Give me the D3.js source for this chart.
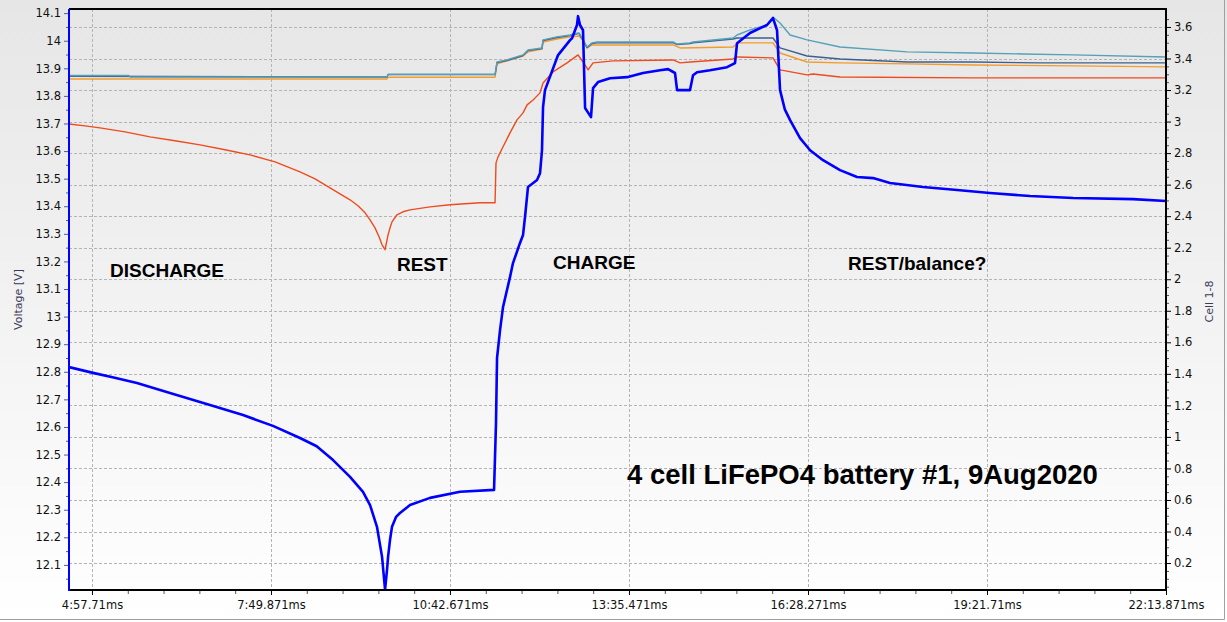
<!DOCTYPE html>
<html>
<head>
<meta charset="utf-8">
<script src="https://cdn.jsdelivr.net/npm/d3@7"></script>
<style>
  body { margin: 0; background: #fff; }
  svg { display: block; font-family: "DejaVu Sans", sans-serif; }
  .note { font-family: "Liberation Sans", Arial, sans-serif; font-weight: bold; fill: #000; }
</style>
</head>
<body>
<svg id="chart" width="1227" height="622"></svg>
<script>
// time in seconds, voltages
const timeTicks = [297.071, 469.871, 642.671, 815.471, 988.271, 1161.071, 1333.871];
const timeTickLabels = ["4:57.71ms", "7:49.871ms", "10:42.671ms", "13:35.471ms", "16:28.271ms", "19:21.71ms", "22:13.871ms"];
const packTicks = d3.range(121, 142).map(d => d / 10);
const cellTicks = d3.range(1, 19).map(d => d / 5);

const packVoltage = [
  [274.9, 12.817], [298.1, 12.796], [318.0, 12.779], [340.5, 12.759], [372.4, 12.723],
  [411.0, 12.680], [442.9, 12.643], [471.8, 12.604], [497.9, 12.560], [514.0, 12.530],
  [529.8, 12.480], [546.2, 12.419], [558.7, 12.365], [565.5, 12.317], [572.2, 12.238],
  [577.1, 12.129], [580.0, 12.010], [581.9, 12.082], [582.9, 12.129], [584.8, 12.191],
  [586.7, 12.238], [590.6, 12.274], [594.4, 12.288], [604.1, 12.317], [623.4, 12.343],
  [652.4, 12.365], [685.2, 12.372], [687.1, 12.614], [688.1, 12.850], [691.0, 12.951],
  [693.9, 13.035], [700.6, 13.143], [703.5, 13.194], [710.3, 13.267], [713.2, 13.296],
  [715.1, 13.361], [718.0, 13.470], [726.7, 13.495], [729.6, 13.520], [731.5, 13.603],
  [732.5, 13.759], [734.4, 13.821], [747.0, 13.948], [758.6, 14.002], [760.5, 14.009],
  [765.3, 14.057], [766.3, 14.089], [768.2, 14.057], [771.1, 14.038], [773.1, 13.756],
  [778.8, 13.723], [780.8, 13.828], [785.6, 13.850], [797.2, 13.864], [813.6, 13.868],
  [829.0, 13.883], [845.4, 13.893], [853.2, 13.897], [859.9, 13.883], [861.9, 13.821],
  [874.4, 13.821], [877.3, 13.875], [881.2, 13.886], [893.7, 13.893], [910.1, 13.904],
  [917.8, 13.919], [919.8, 13.991], [932.3, 14.028], [948.7, 14.057], [954.5, 14.082],
  [958.4, 14.038], [961.3, 13.821], [966.0, 13.750], [971.0, 13.712], [980.6, 13.647],
  [990.3, 13.603], [1002.8, 13.567], [1019.2, 13.531], [1035.6, 13.506], [1051.1, 13.502],
  [1067.5, 13.484], [1099.3, 13.470], [1132.2, 13.459], [1164.0, 13.448], [1202.6, 13.437],
  [1244.2, 13.430], [1302.1, 13.426], [1333.9, 13.419]
];

const cell1 = [
  [274.9, 3.292], [332.8, 3.292], [333.7, 3.283], [581.9, 3.283], [582.9, 3.300],
  [686.2, 3.300], [688.1, 3.378], [697.7, 3.391], [713.2, 3.423], [718.0, 3.454],
  [731.5, 3.467], [732.5, 3.518], [746.0, 3.537], [758.6, 3.549], [766.3, 3.562],
  [767.3, 3.562], [771.1, 3.518], [775.0, 3.473], [779.8, 3.499], [784.6, 3.505],
  [858.0, 3.505], [861.9, 3.492], [874.4, 3.499], [877.3, 3.505], [915.9, 3.530],
  [919.8, 3.549], [932.3, 3.581], [948.7, 3.613], [954.5, 3.663], [961.3, 3.625],
  [971.0, 3.549], [987.4, 3.518], [1019.2, 3.473], [1083.9, 3.442], [1147.6, 3.435],
  [1195.9, 3.429], [1244.2, 3.423], [1333.9, 3.410]
];

const cell2 = [
  [274.9, 3.287], [581.9, 3.283], [582.9, 3.298], [686.2, 3.298], [688.1, 3.374],
  [697.7, 3.387], [713.2, 3.419], [718.0, 3.450], [731.5, 3.463], [732.5, 3.514],
  [746.0, 3.533], [758.6, 3.545], [766.3, 3.558], [767.3, 3.558], [771.1, 3.514],
  [775.0, 3.469], [779.8, 3.495], [784.6, 3.500], [858.0, 3.500], [861.9, 3.488],
  [874.4, 3.495], [877.3, 3.500], [915.9, 3.524], [919.8, 3.530], [954.5, 3.530],
  [961.3, 3.467], [987.4, 3.416], [1019.2, 3.397], [1083.9, 3.378], [1147.6, 3.378],
  [1212.3, 3.372], [1333.9, 3.372]
];

const cell3 = [
  [274.9, 3.270], [581.9, 3.270], [582.9, 3.281], [686.2, 3.281], [688.1, 3.366],
  [697.7, 3.385], [713.2, 3.416], [718.0, 3.442], [731.5, 3.460], [732.5, 3.505],
  [746.0, 3.524], [758.6, 3.537], [767.3, 3.543], [771.1, 3.518], [775.0, 3.467],
  [779.8, 3.486], [784.6, 3.486], [858.0, 3.486], [864.8, 3.467], [915.9, 3.473],
  [920.7, 3.499], [954.5, 3.499], [961.3, 3.435], [987.4, 3.378], [1019.2, 3.372],
  [1083.9, 3.366], [1147.6, 3.359], [1244.2, 3.353], [1333.9, 3.347]
];

const cell4 = [
  [274.9, 2.985], [290.3, 2.973], [304.8, 2.960], [329.0, 2.935], [353.1, 2.903],
  [377.2, 2.878], [401.4, 2.852], [425.5, 2.821], [449.6, 2.789], [473.8, 2.744],
  [497.9, 2.681], [512.4, 2.637], [526.9, 2.580], [536.5, 2.542], [546.2, 2.504],
  [553.9, 2.466], [560.7, 2.421], [565.5, 2.377], [570.3, 2.326], [574.2, 2.269],
  [577.1, 2.218], [580.0, 2.187], [582.9, 2.282], [584.8, 2.326], [586.7, 2.364],
  [591.5, 2.409], [597.3, 2.428], [604.1, 2.440], [623.4, 2.459], [642.7, 2.472],
  [671.7, 2.485], [686.2, 2.485], [687.1, 2.738], [689.1, 2.776], [693.9, 2.840],
  [700.6, 2.928], [707.4, 3.011], [713.2, 3.055], [717.1, 3.106], [722.9, 3.137],
  [729.6, 3.182], [732.5, 3.245], [742.1, 3.315], [755.7, 3.372], [766.3, 3.423],
  [771.1, 3.378], [776.0, 3.328], [780.8, 3.372], [800.1, 3.385], [858.0, 3.391],
  [864.8, 3.372], [874.4, 3.378], [915.9, 3.397], [919.8, 3.410], [954.5, 3.404],
  [961.3, 3.328], [987.4, 3.296], [993.2, 3.302], [1019.2, 3.283], [1147.6, 3.277],
  [1333.9, 3.277]
];

const notes = [
  { text: "DISCHARGE", t: 314.5, v: 13.143, size: 19 },
  { text: "REST", t: 591.5, v: 13.165, size: 19 },
  { text: "CHARGE", t: 742.2, v: 13.174, size: 19 },
  { text: "REST/balance?", t: 1026.9, v: 13.169, size: 19 },
  { text: "4 cell LiFePO4 battery #1, 9Aug2020", t: 813.6, v: 12.393, size: 27.5 }
];

const svg = d3.select("#chart");
const width = +svg.attr("width");
const height = +svg.attr("height");
const margin = { top: 9, right: 61, bottom: 32, left: 69 };
const x0 = margin.left, x1 = width - margin.right;
const y0 = margin.top, y1 = height - margin.bottom;

const x = d3.scaleLinear().domain([274.9, 1333.871]).range([x0, x1]);
const yL = d3.scaleLinear().domain([12.009, 14.115]).range([y1, y0]);
const yR = d3.scaleLinear().domain([0.029, 3.714]).range([y1, y0]);

const defs = svg.append("defs");
const bg = defs.append("linearGradient")
  .attr("id", "bg").attr("x1", 0).attr("y1", 0).attr("x2", 0).attr("y2", 1);
bg.append("stop").attr("offset", "0%").attr("stop-color", "#e6e6e6");
bg.append("stop").attr("offset", "100%").attr("stop-color", "#ffffff");
defs.append("clipPath").attr("id", "plot-clip")
  .append("rect").attr("x", x0).attr("y", y0).attr("width", x1 - x0).attr("height", y1 - y0);

svg.append("rect").attr("width", width).attr("height", height).attr("fill", "url(#bg)");
svg.append("path")
  .attr("d", `M0,${height - 2.5}H${width - 2.5}V0`)
  .attr("fill", "none").attr("stroke", "#a0a0a0").attr("stroke-width", 1);

// grid
const grid = svg.append("g").attr("stroke", "#b4b4b4").attr("stroke-dasharray", "3,2").attr("stroke-width", 1);
grid.selectAll(".gy").data(cellTicks).join("line")
  .attr("x1", x0).attr("x2", x1)
  .attr("y1", d => Math.round(yR(d)) + 0.5).attr("y2", d => Math.round(yR(d)) + 0.5);
grid.selectAll(".gx").data(timeTicks.slice(0, -1)).join("line")
  .attr("y1", y0).attr("y2", y1)
  .attr("x1", d => Math.round(x(d)) + 0.5).attr("x2", d => Math.round(x(d)) + 0.5);

// series
const plot = svg.append("g").attr("clip-path", "url(#plot-clip)");
const lineL = d3.line().x(d => x(d[0])).y(d => yL(d[1]));
const lineR = d3.line().x(d => x(d[0])).y(d => yR(d[1]));

const cells = [
  { data: cell4, color: "#ee4b1e" },
  { data: cell3, color: "#f59b2c" },
  { data: cell2, color: "#3d5f8f" },
  { data: cell1, color: "#56a0b8" }
];
plot.selectAll(".cell").data(cells).join("path")
  .attr("fill", "none")
  .attr("stroke", d => d.color)
  .attr("stroke-width", 1.4)
  .attr("stroke-linejoin", "round")
  .attr("d", d => lineR(d.data));

plot.append("path")
  .datum(packVoltage)
  .attr("fill", "none")
  .attr("stroke", "#0000ff")
  .attr("stroke-width", 2.6)
  .attr("stroke-linejoin", "round")
  .attr("d", lineL);

// axes
const fmt = d => String(+d.toFixed(1));

const leftAxis = svg.append("g")
  .attr("transform", `translate(${x0},0)`)
  .call(d3.axisLeft(yL).tickValues(packTicks).tickFormat(fmt).tickSize(5).tickPadding(3))
  .attr("font-size", 11.5).attr("font-family", null);
leftAxis.select(".domain").remove();
leftAxis.selectAll(".tick line").attr("stroke", "#4a5aa8");
leftAxis.selectAll("text").attr("fill", "#111");
svg.append("g")
  .attr("transform", `translate(${x0},0)`)
  .call(d3.axisLeft(yL).tickValues(packTicks.map(d => d - 0.05)).tickFormat("").tickSize(3))
  .call(g => g.select(".domain").remove())
  .selectAll("line").attr("stroke", "#4a5aa8");

const rightAxis = svg.append("g")
  .attr("transform", `translate(${x1},0)`)
  .call(d3.axisRight(yR).tickValues(cellTicks).tickFormat(fmt).tickSize(5).tickPadding(3))
  .attr("font-size", 11.5).attr("font-family", null);
rightAxis.select(".domain").remove();
rightAxis.selectAll("text").attr("fill", "#111");
svg.append("g")
  .attr("transform", `translate(${x1},0)`)
  .call(d3.axisRight(yR).tickValues(d3.range(1, 74).filter(d => d % 4 !== 0).map(d => d / 20)).tickFormat("").tickSize(3))
  .call(g => g.select(".domain").remove())
  .selectAll("line").attr("stroke", "#555");

const bottomAxis = svg.append("g")
  .attr("transform", `translate(0,${y1})`)
  .call(d3.axisBottom(x).tickValues(timeTicks).tickFormat((d, i) => timeTickLabels[i]).tickSize(5).tickPadding(6))
  .attr("font-size", 11.5).attr("font-family", null);
bottomAxis.select(".domain").remove();
bottomAxis.selectAll("text").attr("fill", "#111");
const minorT = [];
timeTicks.slice(0, -1).forEach(t => { for (let k = 1; k < 5; k++) minorT.push(t + k * 34.56); });
svg.append("g")
  .attr("transform", `translate(0,${y1})`)
  .call(d3.axisBottom(x).tickValues(minorT).tickFormat("").tickSize(4))
  .call(g => g.select(".domain").remove())
  .selectAll("line").attr("stroke", "#555");

// frame
svg.append("path").attr("d", `M${x0},${y0}H${x1}V${y1}H${x0}`)
  .attr("fill", "none").attr("stroke", "#000").attr("stroke-width", 2);
svg.append("line").attr("x1", x0).attr("x2", x0).attr("y1", y0).attr("y2", y1 + 1)
  .attr("stroke", "#0000ff").attr("stroke-width", 2);

// axis titles
svg.append("text")
  .attr("transform", `translate(22,${(y0 + y1) / 2}) rotate(-90)`)
  .attr("text-anchor", "middle")
  .attr("font-size", 11).attr("fill", "#3a3a5a")
  .text("Voltage [V]");
svg.append("text")
  .attr("transform", `translate(1213,${(y0 + y1) / 2 + 2}) rotate(-90)`)
  .attr("text-anchor", "middle")
  .attr("font-size", 11).attr("fill", "#3a3a5a")
  .text("Cell 1-8");

// annotations
svg.selectAll(".note").data(notes).join("text")
  .attr("class", "note")
  .attr("x", d => x(d.t)).attr("y", d => yL(d.v))
  .attr("font-size", d => d.size)
  .text(d => d.text);
</script>
</body>
</html>
